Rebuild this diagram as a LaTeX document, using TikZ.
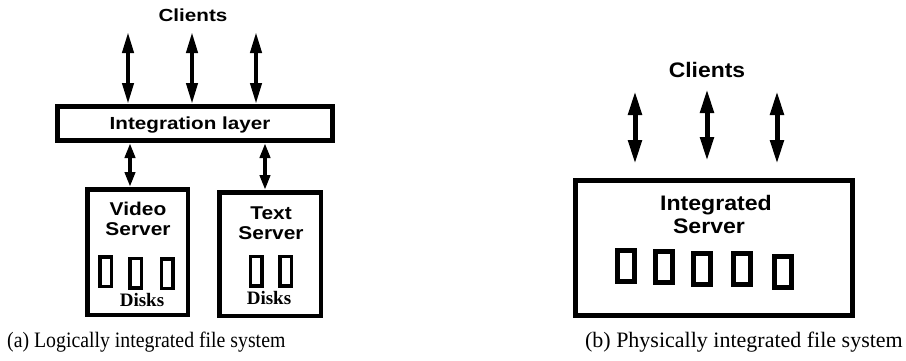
\documentclass[tikz,border=0pt]{standalone}
\usepackage{fontspec}
\usepackage{graphicx}
\setmainfont{Liberation Serif}
\setsansfont{Liberation Sans}
\usetikzlibrary{arrows.meta}

% horizontally scaled text
\newcommand{\wlab}[2]{\scalebox{#1}[1]{#2}}

\tikzset{
  boxframe/.style={draw, line width=#1, rectangle, inner sep=0pt, fill=white},
  diskframe/.style={draw, line width=#1, rectangle, inner sep=0pt},
  lab/.style={font=\sffamily\bfseries\fontsize{#1}{#1}\selectfont, inner sep=0pt, anchor=base},
  dlab/.style={font=\rmfamily\bfseries\fontsize{19}{19}\selectfont, inner sep=0pt, anchor=base},
  captext/.style={font=\rmfamily\fontsize{22}{22}\selectfont, inner sep=0pt},
  biga/.style={line width=4pt, {Triangle[length=21pt,width=11pt]}-{Triangle[length=21pt,width=11pt]}},
  smalla/.style={line width=4pt, {Triangle[length=15pt,width=10pt]}-{Triangle[length=15pt,width=10pt]}},
  gapa/.style={line width=5pt, {Triangle[length=24pt,width=13pt,sep=4pt]}-{Triangle[length=24pt,width=13pt,sep=4pt]}},
}

\begin{document}
\begin{tikzpicture}[x=1pt,y=-1pt]
\useasboundingbox (0,0) rectangle (906,360);

% ---------- (a) logically integrated ----------
\node[lab=17.5] (clientsA) at (193,21.5) {\wlab{1.18}{Clients}};

\node[boxframe=5pt, minimum width=275pt, minimum height=34pt] (layer) at (195,123.5) {};
\node[lab=17.5] (layerT) at (190,129.5) {\wlab{1.18}{Integration layer}};

\node[boxframe=4.5pt, minimum width=100.5pt, minimum height=125.5pt] (video) at (137.5,252) {};
\node[boxframe=4.5pt, minimum width=101.5pt, minimum height=123.5pt] (text) at (270,254) {};

\node[lab=18.5] (videoL1) at (138,215) {\wlab{1.13}{Video}};
\node[lab=18.5] (videoL2) at (138,235) {\wlab{1.13}{Server}};
\node[lab=18.5] (textL1) at (271,219) {\wlab{1.13}{Text}};
\node[lab=18.5] (textL2) at (271,239) {\wlab{1.13}{Server}};

\node[diskframe=3.5pt, minimum width=11.5pt, minimum height=29.5pt] (vd1) at (105.5,271.5) {};
\node[diskframe=3.5pt, minimum width=11.5pt, minimum height=29.5pt] (vd2) at (135.5,273) {};
\node[diskframe=3.5pt, minimum width=11.5pt, minimum height=29.5pt] (vd3) at (167,273.5) {};
\node[diskframe=3.5pt, minimum width=11.5pt, minimum height=29.5pt] (td1) at (256,271) {};
\node[diskframe=3.5pt, minimum width=11.5pt, minimum height=29.5pt] (td2) at (285.5,271) {};

\node[dlab] (vdisks) at (142,306) {Disks};
\node[dlab] (tdisks) at (269,304) {Disks};

% client links above the layer
\coordinate (ca1) at (128,32);
\coordinate (ca2) at (192,32);
\coordinate (ca3) at (256,32);
\draw[biga] (ca1) -- (layer.north -| ca1);
\draw[biga] (ca2) -- (layer.north -| ca2);
\draw[biga] (ca3) -- (layer.north -| ca3);

% layer to servers
\coordinate (la1) at (130,0);
\coordinate (la2) at (265,0);
\draw[smalla] (layer.south -| la1) -- (video.north -| la1);
\draw[smalla] (layer.south -| la2) -- (text.north -| la2);

\node[captext, anchor=base west] (capA) at (7,347) {\wlab{0.9}{(a) Logically integrated file system}};

% ---------- (b) physically integrated ----------
\node[lab=21] (clientsB) at (707,77) {\wlab{1.09}{Clients}};

\coordinate (cb1t) at (635,87);  \coordinate (cb1b) at (635,168);
\coordinate (cb2t) at (707,85);  \coordinate (cb2b) at (707,165);
\coordinate (cb3t) at (777,87);  \coordinate (cb3b) at (777,168);
\draw[gapa] (cb1t) -- (cb1b);
\draw[gapa] (cb2t) -- (cb2b);
\draw[gapa] (cb3t) -- (cb3b);

\node[boxframe=5pt, minimum width=277pt, minimum height=135pt] (server) at (714,248) {};
\node[lab=21] (serverL1) at (716,210) {\wlab{1.1}{Integrated}};
\node[lab=21] (serverL2) at (709,233) {\wlab{1.1}{Server}};

\node[diskframe=5pt, minimum width=17pt, minimum height=31pt] (sd1) at (626,265.5) {};
\node[diskframe=5pt, minimum width=17pt, minimum height=31pt] (sd2) at (664,266.5) {};
\node[diskframe=5pt, minimum width=17pt, minimum height=31pt] (sd3) at (701.5,268.5) {};
\node[diskframe=5pt, minimum width=17pt, minimum height=31pt] (sd4) at (741.5,268.5) {};
\node[diskframe=5pt, minimum width=17pt, minimum height=31pt] (sd5) at (783,271.5) {};

\node[captext, anchor=base east] (capB) at (903,347) {(b) Physically integrated file system};
\end{tikzpicture}
\end{document}
